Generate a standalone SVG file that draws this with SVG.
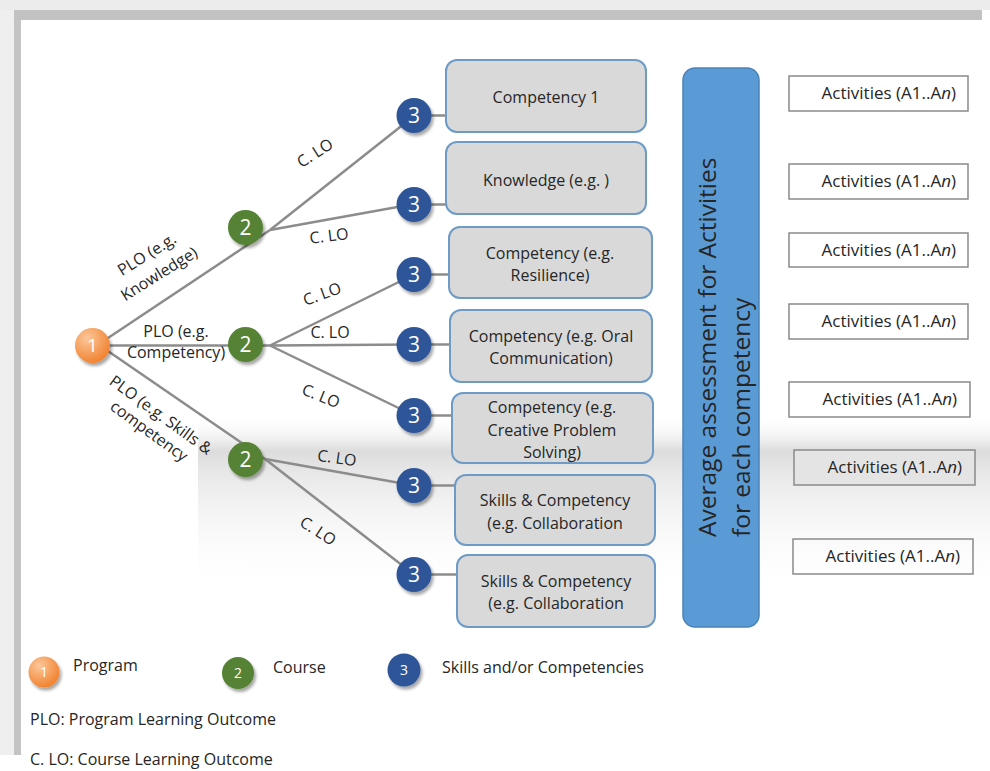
<svg xmlns="http://www.w3.org/2000/svg" width="990" height="771" viewBox="0 0 990 771">
<defs>
<style>
text{font-family:"Open Sans","Noto Sans",sans-serif;fill:#262626}
.num{fill:#fff;text-anchor:middle}
.lbl{font-size:16px;text-anchor:middle}
.box{fill:#d9d9d9;stroke:#6d9bc6;stroke-width:2}
.bt{font-size:16px;text-anchor:middle}
.act{fill:none;stroke:#8a8a8a;stroke-width:1.5}
.at{font-size:17px;text-anchor:end}
.con line{stroke:#8c8c8c;stroke-width:2.5}
.leg{font-size:16px}
</style>
<linearGradient id="band" x1="0" y1="0" x2="0" y2="1">
<stop offset="0" stop-color="#ffffff" stop-opacity="0"/>
<stop offset="0.2" stop-color="#dcdcdc"/>
<stop offset="0.3" stop-color="#e6e6e6"/>
<stop offset="1" stop-color="#ffffff" stop-opacity="0"/>
</linearGradient>
<radialGradient id="og" cx="0.35" cy="0.3" r="0.75">
<stop offset="0" stop-color="#fcc79a"/>
<stop offset="1" stop-color="#f0802c"/>
</radialGradient>
<filter id="sh" x="-40%" y="-40%" width="190%" height="190%">
<feDropShadow dx="2" dy="3" stdDeviation="1.5" flood-color="#000" flood-opacity="0.35"/>
</filter>
</defs>

<rect width="990" height="771" fill="#fff"/>
<!-- frame -->
<rect x="0" y="0" width="990" height="10" fill="#ececec"/>
<rect x="0" y="10" width="14" height="745" fill="#efefef"/>
<rect x="14" y="10" width="968" height="10" fill="#c2c2c2"/>
<rect x="14" y="20" width="7" height="735" fill="#c4c4c4"/>
<rect x="198" y="415" width="792" height="180" fill="url(#band)"/>

<!-- connectors -->
<g id="connectors" class="con">
<line x1="105" y1="340" x2="270" y2="230"/>
<line x1="270" y1="230" x2="414" y2="116"/>
<line x1="270" y1="230" x2="414" y2="204"/>
<line x1="100" y1="345.5" x2="270" y2="345.5"/>
<line x1="270" y1="345.5" x2="414" y2="274.5"/>
<line x1="270" y1="345.5" x2="414" y2="344.5"/>
<line x1="270" y1="345.5" x2="414" y2="415.5"/>
<line x1="105" y1="349" x2="265" y2="459"/>
<line x1="265" y1="459" x2="414" y2="485.5"/>
<line x1="265" y1="459" x2="414" y2="574.5"/>
<line x1="430" y1="115.5" x2="447" y2="115.5"/>
<line x1="430" y1="204.5" x2="447" y2="204.5"/>
<line x1="430" y1="274.5" x2="450" y2="274.5"/>
<line x1="430" y1="344.5" x2="451" y2="344.5"/>
<line x1="430" y1="415.5" x2="453" y2="415.5"/>
<line x1="430" y1="485.5" x2="456" y2="485.5"/>
<line x1="430" y1="574.5" x2="458" y2="574.5"/>
</g>

<!-- edge labels -->
<g id="edge-labels">
<text class="lbl" transform="translate(315,153) rotate(-33)" y="5.5">C. LO</text>
<text class="lbl" transform="translate(329,236) rotate(-7)" y="5.5">C. LO</text>
<text class="lbl" transform="translate(322,294) rotate(-20)" y="5.5">C. LO</text>
<text class="lbl" transform="translate(330,332)" y="5.5">C. LO</text>
<text class="lbl" transform="translate(321,396) rotate(22)" y="5.5">C. LO</text>
<text class="lbl" transform="translate(337,458) rotate(8)" y="5.5">C. LO</text>
<text class="lbl" transform="translate(318,531) rotate(33)" y="5.5">C. LO</text>
<g transform="translate(153,264) rotate(-32)">
<text class="lbl" y="-6">PLO (e.g.</text>
<text class="lbl" y="17">Knowledge)</text>
</g>
<text class="lbl" x="176" y="337">PLO (e.g.</text>
<text class="lbl" x="176" y="358">Competency)</text>
<g transform="translate(155,423) rotate(36)">
<text class="lbl" y="-4.5">PLO (e.g. Skills &amp;</text>
<text class="lbl" y="15.5">competency</text>
</g>
</g>

<!-- nodes -->
<g id="node-program">
<circle cx="92.5" cy="345.5" r="17.5" fill="url(#og)" filter="url(#sh)"/>
<text class="num" x="92.5" y="352" font-size="19">1</text>
</g>
<g id="node-course-1">
<circle cx="245.5" cy="227.5" r="17.5" fill="#548235" filter="url(#sh)"/>
<text class="num" x="245.5" y="235" font-size="21">2</text>
</g>
<g id="node-course-2">
<circle cx="245.5" cy="344.5" r="17.5" fill="#548235" filter="url(#sh)"/>
<text class="num" x="245.5" y="352" font-size="21">2</text>
</g>
<g id="node-course-3">
<circle cx="245.5" cy="459.5" r="17.5" fill="#548235" filter="url(#sh)"/>
<text class="num" x="245.5" y="467" font-size="21">2</text>
</g>
<g id="node-skill-1"><circle cx="414" cy="115.5" r="17.5" fill="#2f5597" filter="url(#sh)"/><text class="num" x="414" y="123" font-size="21">3</text></g>
<g id="node-skill-2"><circle cx="414" cy="204.5" r="17.5" fill="#2f5597" filter="url(#sh)"/><text class="num" x="414" y="212" font-size="21">3</text></g>
<g id="node-skill-3"><circle cx="414" cy="274.5" r="17.5" fill="#2f5597" filter="url(#sh)"/><text class="num" x="414" y="282" font-size="21">3</text></g>
<g id="node-skill-4"><circle cx="414" cy="344.5" r="17.5" fill="#2f5597" filter="url(#sh)"/><text class="num" x="414" y="352" font-size="21">3</text></g>
<g id="node-skill-5"><circle cx="414" cy="415.5" r="17.5" fill="#2f5597" filter="url(#sh)"/><text class="num" x="414" y="423" font-size="21">3</text></g>
<g id="node-skill-6"><circle cx="414" cy="485.5" r="17.5" fill="#2f5597" filter="url(#sh)"/><text class="num" x="414" y="493" font-size="21">3</text></g>
<g id="node-skill-7"><circle cx="414" cy="574.5" r="17.5" fill="#2f5597" filter="url(#sh)"/><text class="num" x="414" y="582" font-size="21">3</text></g>

<!-- competency boxes -->
<g id="box-1"><rect class="box" x="446" y="60" width="200" height="72" rx="11"/><text class="bt" x="546" y="103">Competency 1</text></g>
<g id="box-2"><rect class="box" x="446" y="142" width="200" height="72" rx="11"/><text class="bt" x="546" y="186">Knowledge (e.g. )</text></g>
<g id="box-3"><rect class="box" x="449" y="227" width="203" height="71" rx="11"/><text class="bt" x="550" y="259">Competency (e.g.</text><text class="bt" x="550" y="281">Resilience)</text></g>
<g id="box-4"><rect class="box" x="450" y="310" width="202" height="72" rx="11"/><text class="bt" x="551" y="342">Competency (e.g. Oral</text><text class="bt" x="551" y="364">Communication)</text></g>
<g id="box-5"><rect class="box" x="452" y="393" width="201" height="70" rx="11"/><text class="bt" x="552" y="413">Competency (e.g.</text><text class="bt" x="552" y="436">Creative Problem</text><text class="bt" x="552" y="458">Solving)</text></g>
<g id="box-6"><rect class="box" x="455" y="475" width="200" height="70" rx="11"/><text class="bt" x="555" y="506">Skills &amp; Competency</text><text class="bt" x="555" y="529">(e.g. Collaboration</text></g>
<g id="box-7"><rect class="box" x="457" y="555" width="198" height="72" rx="11"/><text class="bt" x="556" y="587">Skills &amp; Competency</text><text class="bt" x="556" y="609">(e.g. Collaboration</text></g>

<!-- assessment bar -->
<g id="assessment">
<rect x="683" y="68" width="76" height="559" rx="12" fill="#5b9bd5" stroke="#4a82b8" stroke-width="1.5"/>
<text transform="translate(716,537) rotate(-90)" font-size="24.5" fill="#1f1f1f">Average assessment for Activities</text>
<text transform="translate(750,537) rotate(-90)" font-size="24.5" fill="#1f1f1f">for each competency</text>
</g>

<!-- activities -->
<g id="act-1"><rect class="act" x="789" y="76" width="179" height="35"/><text class="at" x="956" y="99">Activities (A1..A<tspan font-style="italic">n</tspan>)</text></g>
<g id="act-2"><rect class="act" x="789" y="164" width="179" height="35"/><text class="at" x="956" y="187">Activities (A1..A<tspan font-style="italic">n</tspan>)</text></g>
<g id="act-3"><rect class="act" x="789" y="233" width="179" height="34"/><text class="at" x="956" y="256">Activities (A1..A<tspan font-style="italic">n</tspan>)</text></g>
<g id="act-4"><rect class="act" x="789" y="304" width="179" height="35"/><text class="at" x="956" y="327">Activities (A1..A<tspan font-style="italic">n</tspan>)</text></g>
<g id="act-5"><rect class="act" x="789" y="382" width="181" height="35"/><text class="at" x="957" y="405">Activities (A1..A<tspan font-style="italic">n</tspan>)</text></g>
<g id="act-6"><rect class="act" x="794" y="450" width="181" height="35" fill="#e2e2e2" style="fill:#e4e4e4"/><text class="at" x="962" y="473">Activities (A1..A<tspan font-style="italic">n</tspan>)</text></g>
<g id="act-7"><rect class="act" x="793" y="539" width="180" height="35"/><text class="at" x="960" y="562">Activities (A1..A<tspan font-style="italic">n</tspan>)</text></g>

<!-- legend -->
<g id="legend">
<circle cx="44" cy="672" r="15.5" fill="url(#og)" filter="url(#sh)"/>
<text class="num" x="44" y="677" font-size="14">1</text>
<text class="leg" x="73" y="671">Program</text>
<circle cx="238" cy="673" r="16" fill="#548235" filter="url(#sh)"/>
<text class="num" x="238" y="678" font-size="14">2</text>
<text class="leg" x="273" y="673">Course</text>
<circle cx="404" cy="670" r="16.5" fill="#2f5597" filter="url(#sh)"/>
<text class="num" x="404" y="675" font-size="14">3</text>
<text class="leg" x="442" y="673" font-size="16.5">Skills and/or Competencies</text>
<text class="leg" x="30" y="725">PLO: Program Learning Outcome</text>
<text class="leg" x="30" y="765">C. LO: Course Learning Outcome</text>
</g>
</svg>
